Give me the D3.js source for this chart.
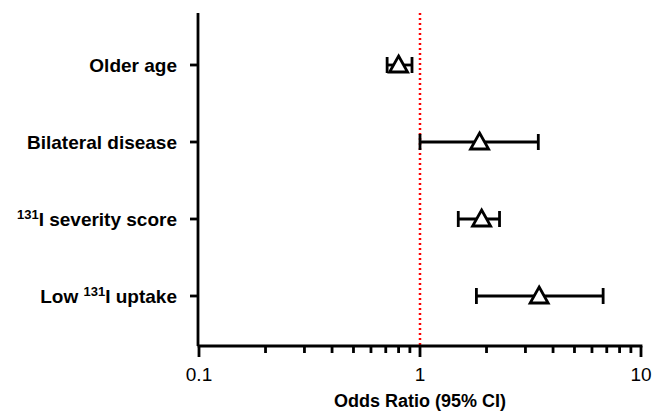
<!DOCTYPE html>
<html><head><meta charset="utf-8">
<script src="https://cdn.jsdelivr.net/npm/d3@7"></script>
<style>body{margin:0;background:#fff}svg{display:block}text{font-family:"Liberation Sans",Arial,sans-serif}</style>
</head><body>
<script>
const categories = ["Older age", "Bilateral disease", "131I severity score", "Low 131I uptake"];
const oddsRatio = [0.80, 1.86, 1.90, 3.46];
const ciLow = [0.71, 1.00, 1.49, 1.80];
const ciHigh = [0.92, 3.43, 2.29, 6.74];
const xTickLabels = [0.1, 1, 10];

const W = 654, H = 411;
const svg = d3.select("body").append("svg").attr("width", W).attr("height", H);
const x = d3.scaleLog().domain([0.1, 10]).range([199, 641]);
const y = d3.scalePoint().domain(categories).range([65, 296]);
const axisY = 346, axisTop = 13;

// reference line
svg.append("line").attr("x1", x(1)).attr("x2", x(1)).attr("y1", axisTop).attr("y2", axisY)
  .attr("stroke", "#f00").attr("stroke-width", 2.5).attr("stroke-dasharray", "2,3");

// x axis
const minor = [];
for (let d = 0.1; d < 10; d *= 10) for (let k = 2; k <= 9; k++) minor.push(+(d * k).toFixed(3));
const gx = svg.append("g");
gx.append("line").attr("x1", x(0.1)).attr("x2", x(10)).attr("y1", axisY).attr("y2", axisY)
  .attr("stroke", "#000").attr("stroke-width", 2.8).attr("stroke-linecap", "square");
gx.selectAll(".mj").data(xTickLabels).join("line").attr("x1", d => x(d)).attr("x2", d => x(d))
  .attr("y1", axisY).attr("y2", axisY + 11).attr("stroke", "#000").attr("stroke-width", 2.8);
gx.selectAll(".mn").data(minor).join("line").attr("x1", d => x(d)).attr("x2", d => x(d))
  .attr("y1", axisY).attr("y2", axisY + 7).attr("stroke", "#000").attr("stroke-width", 2.8);
gx.selectAll(".tl").data(xTickLabels).join("text").attr("x", d => x(d)).attr("y", 381)
  .attr("text-anchor", "middle").attr("font-size", 19).text(d => d);
svg.append("text").attr("x", x(1)).attr("y", 407).attr("text-anchor", "middle")
  .attr("font-size", 18).attr("font-weight", "bold").text("Odds Ratio (95% CI)");

// y axis
svg.append("line").attr("x1", 198).attr("x2", 198).attr("y1", axisTop).attr("y2", axisY)
  .attr("stroke", "#000").attr("stroke-width", 2.8);
svg.selectAll(".yt").data(categories).join("line").attr("x1", 190).attr("x2", 198)
  .attr("y1", d => y(d)).attr("y2", d => y(d)).attr("stroke", "#000").attr("stroke-width", 2.8);
const lab = svg.selectAll(".yl").data(categories).join("text").attr("x", 177).attr("y", d => y(d) + 7)
  .attr("text-anchor", "end").attr("font-size", 19).attr("font-weight", "bold");
lab.each(function(d) {
  const t = d3.select(this);
  const parts = d.split("131");
  if (parts.length === 1) { t.text(d); return; }
  if (parts[0]) t.append("tspan").text(parts[0]);
  t.append("tspan").attr("font-size", 13).attr("dy", -7).text("131");
  t.append("tspan").attr("dy", 7).text(parts[1]);
});

// error bars
const g = svg.append("g");
categories.forEach((c, i) => {
  const yy = y(c);
  g.append("line").attr("x1", x(ciLow[i])).attr("x2", x(ciHigh[i])).attr("y1", yy).attr("y2", yy)
    .attr("stroke", "#000").attr("stroke-width", 2.8);
  [ciLow[i], ciHigh[i]].forEach(v => g.append("line").attr("x1", x(v)).attr("x2", x(v))
    .attr("y1", yy - 8).attr("y2", yy + 8).attr("stroke", "#000").attr("stroke-width", 2.8));
  const cx = x(oddsRatio[i]);
  g.append("path").attr("d", `M${cx},${yy - 9}L${cx + 9},${yy + 7}L${cx - 9},${yy + 7}Z`)
    .attr("fill", "#fff").attr("stroke", "#000").attr("stroke-width", 2.8).attr("stroke-linejoin", "miter");
});
</script>
</body></html>
